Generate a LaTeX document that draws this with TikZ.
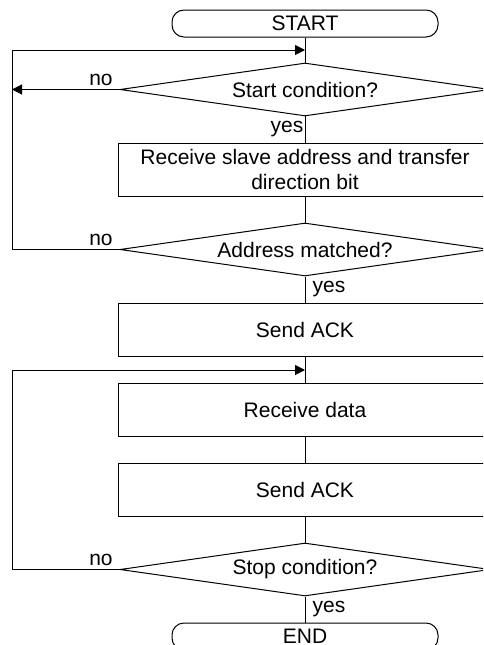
\documentclass[tikz,border=0pt]{standalone}
\usepackage{fontspec}
\setmainfont{Liberation Sans}
\usetikzlibrary{shapes.geometric,arrows.meta}
\begin{document}
\begin{tikzpicture}[x=1pt,y=-1pt,
  line width=1pt,
  every node/.style={font=\fontsize{21}{25.5}\selectfont, inner sep=0pt},
  term/.style={draw, rectangle, rounded corners=12pt, minimum width=266pt, minimum height=27pt},
  proc/.style={draw, rectangle, minimum width=374pt, minimum height=53pt, align=center},
  dec/.style={draw, diamond, aspect=7, minimum width=370pt, minimum height=53pt},
  lbl/.style={draw=none},
  arr/.style={-{Triangle[length=10pt,width=10pt]}}
]
\useasboundingbox (0,0) rectangle (483,645);
\clip (0,0) rectangle (483,645);

\node[term] (start) at (305,23.5) {START};
\node[dec] (d1) at (305,89.5) {Start condition?};
\node[proc] (b1) at (305,169.5) {Receive slave address and transfer\\direction bit};
\node[dec] (d2) at (305,249.5) {Address matched?};
\node[proc] (b2) at (305,329.5) {Send ACK};
\node[proc] (b3) at (305,409.5) {Receive data};
\node[proc] (b4) at (305,489.5) {Send ACK};
\node[dec] (d3) at (305,569.5) {Stop condition?};
\node[term] (end) at (305,636.5) {END};

\coordinate (j1) at (305,50);
\coordinate (j2) at (305,370);
\coordinate (L1) at (12,50);
\coordinate (L2) at (12,370);
\coordinate (n1) at (12,89.5);

% main flow
\draw (start) -- (d1);
\draw (d1) -- (b1);
\draw (b1) -- (d2);
\draw (d2) -- (b2);
\draw (b2) -- (b3);
\draw (b3) -- (b4);
\draw (b4) -- (d3);
\draw (d3) -- (end);

% loops
\draw[arr] (d1.west) -- (n1);
\draw[arr] (d2.west) -| (L1) -- (j1);
\draw[arr] (d3.west) -| (L2) -- (j2);

% labels
\node[lbl] (no1) at (101,80) {no};
\node[lbl] (no2) at (101,240) {no};
\node[lbl] (no3) at (101,560) {no};
\node[lbl] (yes1) at (287,129) {yes};
\node[lbl] (yes2) at (329,289) {yes};
\node[lbl] (yes3) at (329,609) {yes};
\end{tikzpicture}
\end{document}
